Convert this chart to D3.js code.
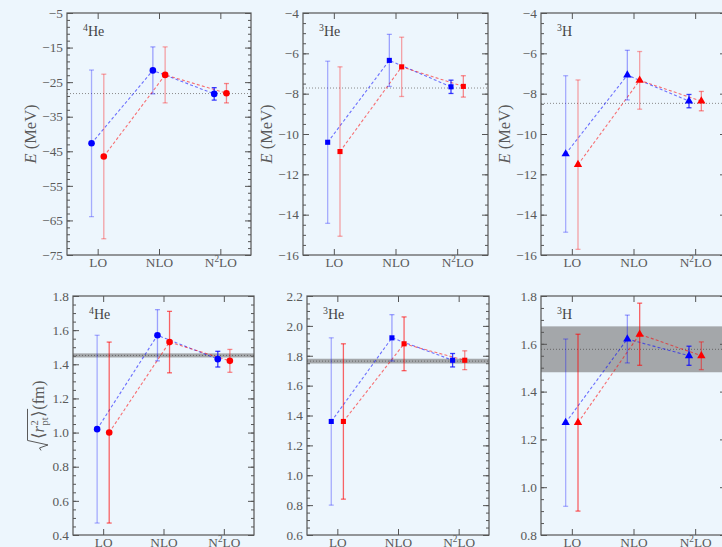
<!DOCTYPE html>
<html>
<head>
<meta charset="utf-8">
<script src="https://cdn.jsdelivr.net/npm/d3@7"></script>
<style>
  html, body { margin: 0; padding: 0; background: #EDF6FD; }
  svg { display: block; }
  text { font-family: "Liberation Serif", "Times New Roman", serif; }
</style>
</head>
<body>
<svg id="fig" width="722" height="547"></svg>
<script>
// ---- chiral orders and nuclei ----
const orders = ["LO", "NLO", "N^2LO"];
const nuclei = ["^4He", "^3He", "^3H"];

// ---- binding energies E (MeV): blue and red calculations with uncertainties ----
const energy4HeBlue    = [-42.7, -21.6, -28.4];
const energy4HeBlueErr = [21.2, 6.8, 1.8];
const energy4HeRed     = [-46.5, -22.9, -28.2];
const energy4HeRedErr  = [23.8, 8.1, 2.8];
const energy4HeExp     = -28.3;

const energy3HeBlue    = [-10.41, -6.35, -7.66];
const energy3HeBlueErr = [4.02, 1.29, 0.33];
const energy3HeRed     = [-10.87, -6.67, -7.64];
const energy3HeRedErr  = [4.20, 1.47, 0.53];
const energy3HeExp     = -7.72;

const energy3HBlue     = [-10.99, -7.08, -8.37];
const energy3HBlueErr  = [3.88, 1.23, 0.33];
const energy3HRed      = [-11.52, -7.34, -8.37];
const energy3HRedErr   = [4.20, 1.43, 0.48];
const energy3HExp      = -8.48;

// ---- point-proton radii (fm) ----
const radius4HeBlue    = [1.02, 1.57, 1.43];
const radius4HeBlueErr = [0.55, 0.15, 0.046];
const radius4HeRed     = [1.00, 1.53, 1.42];
const radius4HeRedErr  = [0.53, 0.18, 0.067];
const radius4HeExp     = 1.452;
const radius4HeExpErr  = 0.012;

const radius3HeBlue    = [1.36, 1.92, 1.77];
const radius3HeBlueErr = [0.56, 0.155, 0.045];
const radius3HeRed     = [1.36, 1.88, 1.77];
const radius3HeRedErr  = [0.52, 0.18, 0.063];
const radius3HeExp     = 1.764;
const radius3HeExpErr  = 0.016;

const radius3HBlue     = [1.27, 1.62, 1.55];
const radius3HBlueErr  = [0.35, 0.10, 0.04];
const radius3HRed      = [1.27, 1.64, 1.55];
const radius3HRedErr   = [0.37, 0.13, 0.058];
const radius3HExp      = 1.577;
const radius3HExpErr   = 0.096;

// ---- axis ranges and tick steps ----
const energyDomains   = [[-75, -5], [-16, -4], [-16, -4]];
const energyMajor     = [10, 2, 2];
const energyMinor     = [2, 0.5, 0.5];
const radiusDomains   = [[0.4, 1.8], [0.6, 2.2], [0.8, 1.8]];
const radiusMajor     = [0.2, 0.2, 0.2];
const radiusMinor     = [0.05, 0.05, 0.05];

// ---- figure layout ----
const frames = [
  [{l: 67, r: 251, t: 13, b: 255}, {l: 303, r: 488, t: 13, b: 255}, {l: 541, r: 726, t: 13, b: 255}],
  [{l: 73, r: 254, t: 296, b: 535}, {l: 307, r: 489, t: 296, b: 535}, {l: 541, r: 726, t: 296, b: 535}]
];
const symbolTypes = [d3.symbolCircle, d3.symbolSquare, d3.symbolTriangle];
const symbolSizes = [34, 26, 30];
const BLUE = "#0000ff", RED = "#ff0000";
const FRAME = "#555555", LABEL = "#5a5a5a";
const FONT = 13.3;

const svg = d3.select("#fig");

// Renders "a^bc" strings as text with a raised small segment.
function richText(sel, str, size) {
  const m = str.match(/^([^\^]*)\^(\d+)(.*)$/);
  sel.text(null);
  if (!m) { sel.text(str); return; }
  if (m[1]) sel.append("tspan").text(m[1]);
  sel.append("tspan").attr("font-size", size * 0.7).attr("dy", -size * 0.38).text(m[2]);
  sel.append("tspan").attr("dy", size * 0.38).text(m[3]);
}

function fixedRange(a, b, step) {
  const n = Math.round((b - a) / step);
  return d3.range(n + 1).map(i => +(a + i * step).toFixed(4));
}

const panels = [
  {row: 0, col: 0, blue: energy4HeBlue, blueErr: energy4HeBlueErr, red: energy4HeRed, redErr: energy4HeRedErr, exp: energy4HeExp, expErr: 0},
  {row: 0, col: 1, blue: energy3HeBlue, blueErr: energy3HeBlueErr, red: energy3HeRed, redErr: energy3HeRedErr, exp: energy3HeExp, expErr: 0},
  {row: 0, col: 2, blue: energy3HBlue,  blueErr: energy3HBlueErr,  red: energy3HRed,  redErr: energy3HRedErr,  exp: energy3HExp,  expErr: 0},
  {row: 1, col: 0, blue: radius4HeBlue, blueErr: radius4HeBlueErr, red: radius4HeRed, redErr: radius4HeRedErr, exp: radius4HeExp, expErr: radius4HeExpErr},
  {row: 1, col: 1, blue: radius3HeBlue, blueErr: radius3HeBlueErr, red: radius3HeRed, redErr: radius3HeRedErr, exp: radius3HeExp, expErr: radius3HeExpErr},
  {row: 1, col: 2, blue: radius3HBlue,  blueErr: radius3HBlueErr,  red: radius3HRed,  redErr: radius3HRedErr,  exp: radius3HExp,  expErr: radius3HExpErr}
];

panels.forEach(p => {
  const f = frames[p.row][p.col];
  const dom = p.row === 0 ? energyDomains[p.col] : radiusDomains[p.col];
  const major = p.row === 0 ? energyMajor[p.col] : radiusMajor[p.col];
  const minor = p.row === 0 ? energyMinor[p.col] : radiusMinor[p.col];
  const fmt = p.row === 0 ? d3.format("d") : d3.format(".1f");

  const x = d3.scaleLinear().domain([0.5, 3.5]).range([f.l, f.r]);
  const y = d3.scaleLinear().domain(dom).range([f.b, f.t]);
  const g = svg.append("g");

  // experimental band and central value
  if (p.expErr > 0) {
    g.append("rect")
      .attr("x", f.l).attr("width", f.r - f.l)
      .attr("y", y(p.exp + p.expErr)).attr("height", y(p.exp - p.expErr) - y(p.exp + p.expErr))
      .attr("fill", "#737373").attr("fill-opacity", 0.6);
  }
  g.append("line")
    .attr("x1", f.l).attr("x2", f.r).attr("y1", y(p.exp)).attr("y2", y(p.exp))
    .attr("stroke", p.expErr > 0 ? "#666" : "#8a8a8a").attr("stroke-width", 1)
    .attr("stroke-dasharray", "1,2");

  const series = [
    {vals: p.blue, errs: p.blueErr, color: BLUE, dx: -0.1, barOpacity: [0.3, 0.35, 0.75]},
    {vals: p.red,  errs: p.redErr,  color: RED,  dx: 0.1,
     barOpacity: p.row === 0 ? [0.35, 0.35, 0.45] : [0.6, 0.6, 0.45]}
  ];

  // dashed connecting lines
  series.forEach(s => {
    const line = d3.line().x((d, i) => x(i + 1 + s.dx)).y(d => y(d));
    g.append("path").datum(s.vals)
      .attr("d", line).attr("fill", "none")
      .attr("stroke", s.color).attr("stroke-opacity", 0.55)
      .attr("stroke-width", 1.1).attr("stroke-dasharray", "3,2.2");
  });

  // error bars
  series.forEach(s => {
    s.vals.forEach((v, i) => {
      const cx = x(i + 1 + s.dx);
      const top = y(v + s.errs[i]), bot = y(v - s.errs[i]);
      const eb = g.append("g").attr("stroke", s.color).attr("stroke-opacity", s.barOpacity[i]).attr("stroke-width", 1.3);
      eb.append("line").attr("x1", cx).attr("x2", cx).attr("y1", top).attr("y2", bot);
      eb.append("line").attr("x1", cx - 2.5).attr("x2", cx + 2.5).attr("y1", top).attr("y2", top);
      eb.append("line").attr("x1", cx - 2.5).attr("x2", cx + 2.5).attr("y1", bot).attr("y2", bot);
    });
  });

  // markers
  const sym = d3.symbol().type(symbolTypes[p.col]).size(symbolSizes[p.col]);
  series.forEach(s => {
    g.selectAll(null).data(s.vals).enter().append("path")
      .attr("d", sym)
      .attr("transform", (d, i) => `translate(${x(i + 1 + s.dx)},${y(d)})`)
      .attr("fill", s.color);
  });

  // axes with inward ticks
  const majorVals = fixedRange(dom[0], dom[1], major);
  const minorVals = fixedRange(dom[0], dom[1], minor);
  const styleAxis = a => {
    a.select(".domain").remove();
    a.selectAll("line").attr("stroke", FRAME).attr("stroke-width", 1);
    a.selectAll("text").attr("fill", LABEL).attr("font-size", FONT)
      .attr("font-family", '"Liberation Serif", "Times New Roman", serif');
  };
  g.append("g").attr("transform", `translate(${f.l},0)`)
    .call(d3.axisLeft(y).tickValues(minorVals).tickSize(-3).tickFormat(""))
    .call(styleAxis);
  g.append("g").attr("transform", `translate(${f.r},0)`)
    .call(d3.axisRight(y).tickValues(minorVals).tickSize(-3).tickFormat(""))
    .call(styleAxis);
  g.append("g").attr("transform", `translate(${f.l},0)`)
    .call(d3.axisLeft(y).tickValues(majorVals).tickSize(-6).tickPadding(4).tickFormat(fmt))
    .call(styleAxis);
  g.append("g").attr("transform", `translate(${f.r},0)`)
    .call(d3.axisRight(y).tickValues(majorVals).tickSize(-6).tickFormat(""))
    .call(styleAxis);
  g.append("g").attr("transform", `translate(0,${f.t})`)
    .call(d3.axisTop(x).tickValues([1, 2, 3]).tickSize(-6).tickFormat(""))
    .call(styleAxis);
  const xb = g.append("g").attr("transform", `translate(0,${f.b})`)
    .call(d3.axisBottom(x).tickValues([1, 2, 3]).tickSize(-6).tickPadding(3).tickFormat((d, i) => orders[i]))
    .call(styleAxis);
  xb.selectAll(".tick text").each(function(d, i) { richText(d3.select(this), orders[i], FONT); });

  // frame
  g.append("rect")
    .attr("x", f.l).attr("y", f.t).attr("width", f.r - f.l).attr("height", f.b - f.t)
    .attr("fill", "none").attr("stroke", FRAME).attr("stroke-width", 1.2);

  // nucleus tag
  g.append("text").attr("x", f.l + 16).attr("y", f.t + 23)
    .attr("fill", "#444").attr("font-size", 14)
    .call(t => richText(t, nuclei[p.col], 14));

  // y-axis titles
  if (p.row === 0) {
    const t = g.append("text")
      .attr("transform", `translate(${f.l - 31},${(f.t + f.b) / 2}) rotate(-90)`)
      .attr("text-anchor", "middle").attr("fill", LABEL).attr("font-size", 16.5);
    t.append("tspan").attr("font-style", "italic").text("E");
    t.append("tspan").text(" (MeV)");
  } else if (p.col === 0) {
    drawRadiusTitle(g, f.l - 29, (f.t + f.b) / 2);
  }
});

// sqrt(<r^2_pt>) (fm), drawn along a rotated baseline
function drawRadiusTitle(g, bx, cy) {
  const fs = 16.5, small = 10.5;
  const t = g.append("g").attr("transform", `translate(${bx},${cy}) rotate(-90)`);
  const parts = t.append("g").attr("fill", LABEL);
  let cursor = 0;
  const put = (str, opts = {}) => {
    const el = parts.append("text").attr("x", cursor).attr("y", opts.dy || 0)
      .attr("font-size", opts.size || fs).text(str);
    if (opts.italic) el.attr("font-style", "italic");
    return el.node().getComputedTextLength();
  };
  const radW = 11;
  cursor = radW;
  cursor += put("\u27E8");
  cursor += put("r", {italic: true}) + 0.5;
  const supW = put("2", {size: small, dy: -6.5});
  const subW = put("pt", {size: small, dy: 4});
  cursor += Math.max(supW, subW) + 0.5;
  cursor += put("\u27E9");
  const barEnd = cursor + 1;
  cursor += put(" (fm)");
  const total = cursor;
  parts.attr("transform", `translate(${-total / 2},0)`);
  const x0 = -total / 2;
  t.append("path")
    .attr("d", `M${x0},-3 L${x0 + 2.5},-4.5 L${x0 + 5.5},4 L${x0 + radW - 1},-16.5 L${x0 + barEnd},-16.5`)
    .attr("fill", "none").attr("stroke", LABEL).attr("stroke-width", 1);
}
</script>
</body>
</html>
